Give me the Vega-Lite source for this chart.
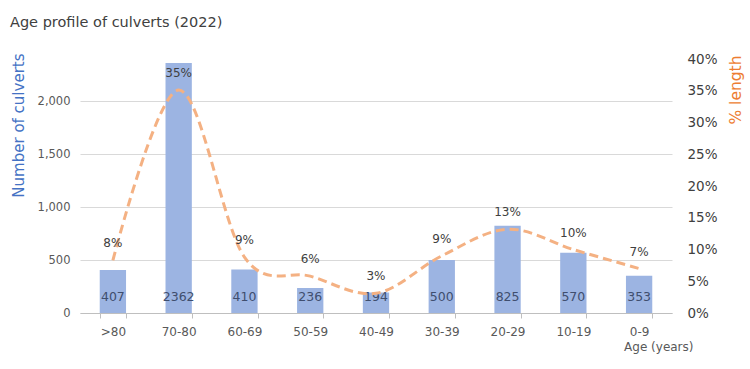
{
  "$schema": "https://vega.github.io/schema/vega-lite/v6.json",
  "width": 592,
  "height": 254,
  "autosize": {"type": "none"},
  "padding": {"left": 80, "top": 59, "right": 78, "bottom": 56},
  "background": "white",
  "title": {
    "text": "Age profile of culverts (2022)",
    "anchor": "start",
    "frame": "group",
    "dx": -70,
    "offset": 22,
    "fontSize": 14.5,
    "font": "DejaVu Sans",
    "fontWeight": "normal",
    "color": "#404040"
  },
  "config": {
    "view": {"stroke": null},
    "font": "DejaVu Sans",
    "axis": {"labelFont": "DejaVu Sans", "titleFont": "DejaVu Sans", "titleFontWeight": "normal"}
  },
  "data": {
    "values": [
      {"age": ">80", "count": 407, "pct": 0.083},
      {"age": "70-80", "count": 2362, "pct": 0.351},
      {"age": "60-69", "count": 410, "pct": 0.088},
      {"age": "50-59", "count": 236, "pct": 0.058},
      {"age": "40-49", "count": 194, "pct": 0.031},
      {"age": "30-39", "count": 500, "pct": 0.09},
      {"age": "20-29", "count": 825, "pct": 0.132},
      {"age": "10-19", "count": 570, "pct": 0.1},
      {"age": "0-9", "count": 353, "pct": 0.07}
    ]
  },
  "encoding": {
    "x": {
      "field": "age",
      "type": "nominal",
      "sort": null,
      "scale": {"paddingInner": 0.6, "paddingOuter": 0.3},
      "axis": {
        "title": "Age (years)",
        "titleFontSize": 12,
        "titleColor": "#595959",
        "titleAnchor": "end",
        "titleAlign": "right",
        "titleBaseline": "middle",
        "titleX": 613,
        "titleY": 33,
        "labelAngle": 0,
        "labelFontSize": 12,
        "labelColor": "#595959",
        "labelPadding": 8,
        "tickBand": "extent",
        "tickColor": "#BFBFBF",
        "tickSize": 5,
        "domainColor": "#BFBFBF",
        "grid": false
      }
    }
  },
  "layer": [
    {
      "encoding": {
        "y": {
          "field": "count",
          "type": "quantitative",
          "scale": {"domain": [0, 2400], "nice": false},
          "axis": {
            "title": "Number of culverts",
            "titleColor": "#4472C4",
            "titleFontSize": 15,
            "titleAngle": 270,
            "titleAlign": "right",
            "titleBaseline": "middle",
            "titleX": -62,
            "titleY": -6,
            "values": [0, 500, 1000, 1500, 2000],
            "format": ",d",
            "labelFontSize": 11.5,
            "labelColor": "#595959",
            "labelPadding": 10,
            "ticks": false,
            "domain": false,
            "grid": true,
            "gridColor": "#D9D9D9"
          }
        }
      },
      "layer": [
        {"mark": {"type": "bar", "color": "#9CB4E2"}},
        {
          "mark": {"type": "text", "baseline": "middle", "dy": -16, "fontSize": 12.5, "color": "#3F4E6E"},
          "encoding": {"y": {"datum": 0}, "text": {"field": "count", "type": "quantitative", "format": "d"}}
        }
      ]
    },
    {
      "encoding": {
        "y": {
          "field": "pct",
          "type": "quantitative",
          "scale": {"domain": [0, 0.4], "nice": false},
          "axis": {
            "orient": "right",
            "title": "% length",
            "titleColor": "#ED7D31",
            "titleFontSize": 15.5,
            "titleAngle": 270,
            "titleAlign": "right",
            "titleBaseline": "middle",
            "titleX": 63,
            "titleY": -4,
            "values": [0, 0.05, 0.1, 0.15, 0.2, 0.25, 0.3, 0.35, 0.4],
            "format": ".0%",
            "labelFontSize": 13.5,
            "labelColor": "#404040",
            "labelPadding": 15,
            "ticks": false,
            "domain": false,
            "grid": false
          }
        }
      },
      "layer": [
        {
          "mark": {"type": "line", "interpolate": "cardinal", "color": "#F4B183", "strokeWidth": 3, "strokeDash": [9, 5]}
        },
        {
          "mark": {"type": "text", "baseline": "middle", "dy": -17, "fontSize": 12, "color": "#404040"},
          "encoding": {"text": {"field": "pct", "type": "quantitative", "format": ".0%"}}
        }
      ]
    }
  ],
  "resolve": {"scale": {"y": "independent"}}
}
